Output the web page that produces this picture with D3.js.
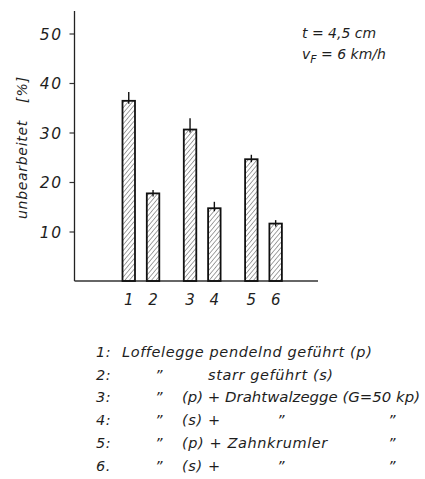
<!DOCTYPE html>
<html>
<head>
<meta charset="utf-8">
<script src="https://cdn.jsdelivr.net/npm/d3@7/dist/d3.min.js"></script>
<style>
  html, body { margin: 0; padding: 0; background: #fff; }
  svg text { font-family: "DejaVu Sans", sans-serif; font-style: italic; fill: #1e1e1e; }
</style>
</head>
<body>
<svg id="chart" width="425" height="479"></svg>
<script>
// Treatment numbers, grouped in pairs (pendelnd / starr)
const categories = ["1", "2", "3", "4", "5", "6"];
const groups = [0, 0, 1, 1, 2, 2];
// Unbearbeitete Fläche in %
const values = [36.4, 17.7, 30.6, 14.7, 24.6, 11.6];
// Upper end of the scatter bar in %
const upper = [38.2, 18.4, 32.9, 16.0, 25.5, 12.3];
const yTicks = [10, 20, 30, 40, 50];

const legendRows = [
  ["1:", "Loffelegge pendelnd geführt (p)"],
  ["2:", "\u201D", "starr geführt (s)"],
  ["3:", "\u201D", "(p) + Drahtwalzegge (G=50 kp)"],
  ["4:", "\u201D", "(s) +", "\u201D", "\u201D"],
  ["5:", "\u201D", "(p) + Zahnkrumler", "", "\u201D"],
  ["6.", "\u201D", "(s) +", "\u201D", "\u201D"]
];

const svg = d3.select("#chart");

const y = d3.scaleLinear().domain([0, 50]).range([281, 33.5]);
const xGroup = d3.scaleBand().domain([0, 1, 2]).range([110.25, 294.15]);
const xInner = d3.scaleBand().domain([0, 1]).range([0, xGroup.bandwidth()])
  .paddingInner(0.486).paddingOuter(0.504);
const barX = i => xGroup(groups[i]) + xInner(i % 2);
const barW = xInner.bandwidth();

// Hatch fill for the bars
const defs = svg.append("defs");
const pat = defs.append("pattern")
  .attr("id", "hatch")
  .attr("patternUnits", "userSpaceOnUse")
  .attr("width", 3.4).attr("height", 3.4)
  .attr("patternTransform", "rotate(40)");
pat.append("line")
  .attr("x1", 0).attr("y1", 0).attr("x2", 0).attr("y2", 3.4)
  .attr("stroke", "#333").attr("stroke-width", 0.9);

// y axis
const yAxis = d3.axisLeft(y).tickValues(yTicks).tickSize(5).tickPadding(7)
  .tickFormat(d3.format("d"));
const gy = svg.append("g").attr("transform", "translate(74.5,0)").call(yAxis);
gy.select(".domain").remove();
gy.append("line").attr("y1", 11).attr("y2", y(0)).attr("stroke", "#222").attr("stroke-width", 1.3);
gy.selectAll(".tick line").attr("stroke", "#333").attr("stroke-width", 1.2);
gy.selectAll(".tick text")
  .style("font-size", "15.5px").style("letter-spacing", "1.5px")
  .attr("fill", "#222").attr("dy", "0.36em");

// baseline
svg.append("line")
  .attr("x1", 74.5).attr("x2", 318)
  .attr("y1", y(0)).attr("y2", y(0))
  .attr("stroke", "#333").attr("stroke-width", 1.3);

// bars
const bars = svg.append("g");
bars.selectAll("rect")
  .data(values)
  .join("rect")
  .attr("x", (d, i) => barX(i))
  .attr("y", d => y(d))
  .attr("width", barW)
  .attr("height", d => y(0) - y(d))
  .attr("fill", "url(#hatch)")
  .attr("stroke", "#111")
  .attr("stroke-width", 1.8);

// scatter marks above each bar
svg.append("g").selectAll("line")
  .data(upper)
  .join("line")
  .attr("x1", (d, i) => barX(i) + barW / 2)
  .attr("x2", (d, i) => barX(i) + barW / 2)
  .attr("y1", (d, i) => y(values[i]) + 3)
  .attr("y2", d => y(d))
  .attr("stroke", "#111").attr("stroke-width", 1.4);

// category numbers
svg.append("g").selectAll("text")
  .data(categories)
  .join("text")
  .attr("x", (d, i) => barX(i) + barW / 2)
  .attr("y", 305)
  .attr("text-anchor", "middle")
  .style("font-size", "15px")
  .text(d => d);

// y axis title
svg.append("text")
  .attr("transform", "translate(27,219) rotate(-90)")
  .style("font-size", "14px").style("letter-spacing", "0.7px")
  .text("unbearbeitet");
svg.append("text")
  .attr("transform", "translate(27,103) rotate(-90)")
  .style("font-size", "14px").style("letter-spacing", "1px")
  .text("[%]");

// parameter note
const note = svg.append("g").style("font-size", "14px");
note.append("text").attr("x", 302).attr("y", 38).text("t = 4,5 cm");
const v = note.append("text").attr("x", 302).attr("y", 59);
v.append("tspan").text("v");
v.append("tspan").attr("dy", 4).style("font-size", "11px").text("F");
v.append("tspan").attr("dy", -4).text(" = 6 km/h");

// legend
const colX = [96, 155, 182, 277, 388];
const legend = svg.append("g").style("font-size", "14.5px").style("letter-spacing", "0.6px");
legendRows.forEach((row, r) => {
  const yy = 357 + r * 22.7;
  row.forEach((txt, c) => {
    let x = colX[c];
    if (r === 0 && c === 1) x = 122;
    if (r === 1 && c === 2) x = 208;
    const t = legend.append("text").attr("x", x).attr("y", yy).text(txt);
    // the longest entry is fitted to the right edge
    if (r === 2 && c === 2) {
      t.style("letter-spacing", "0px")
        .attr("textLength", 238).attr("lengthAdjust", "spacingAndGlyphs");
    }
  });
});
</script>
</body>
</html>
